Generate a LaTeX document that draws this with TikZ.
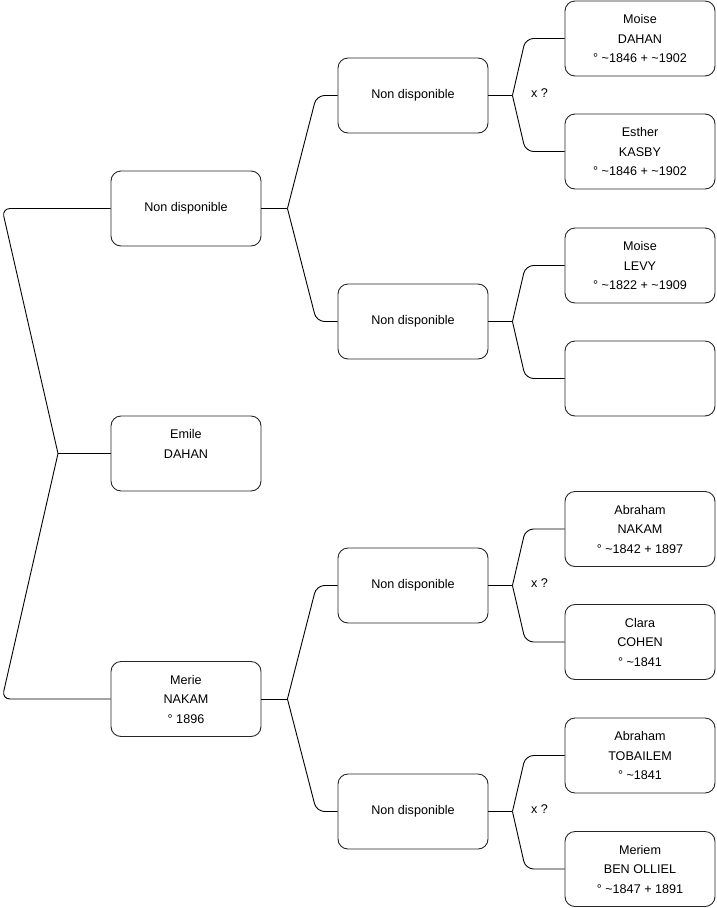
\documentclass[tikz,border=0pt]{standalone}
\usepackage{fontspec}
\setmainfont{Liberation Sans}
\begin{document}
\begin{tikzpicture}[x=1pt,y=-1pt,
  person/.style={draw=black!85, line width=0.9pt, rounded corners=10pt, minimum width=150pt, minimum height=75pt, inner sep=0pt, align=center, font=\fontsize{12.6}{19.5}\selectfont},
  link/.style={draw=black, line width=0.9pt},
  lnk/.style={link, rounded corners=8pt},
  xlab/.style={font=\fontsize{12.6}{15}\selectfont, inner sep=0pt}]
\useasboundingbox (0,0) rectangle (716,908);
% column 1
\node[person] (p1) at (186,208.5) {Non disponible};
\node[person] (root) at (186,453.5) {Emile\\DAHAN\\\mbox{}};
\node[person] (p2) at (186,699) {Merie\\NAKAM\\° 1896};
% column 2
\node[person] (g1) at (413,95.5) {Non disponible};
\node[person] (g2) at (413,321.5) {Non disponible};
\node[person] (g3) at (413,585.5) {Non disponible};
\node[person] (g4) at (413,811.5) {Non disponible};
% column 3
\node[person] (a1) at (640,38.5) {Moise\\DAHAN\\° \textasciitilde 1846 + \textasciitilde 1902};
\node[person] (a2) at (640,151.5) {Esther\\KASBY\\° \textasciitilde 1846 + \textasciitilde 1902};
\node[person] (a3) at (640,265.5) {Moise\\LEVY\\° \textasciitilde 1822 + \textasciitilde 1909};
\node[person] (a4) at (640,378.5) {};
\node[person] (a5) at (640,529) {Abraham\\NAKAM\\° \textasciitilde 1842 + 1897};
\node[person] (a6) at (640,642) {Clara\\COHEN\\° \textasciitilde 1841};
\node[person] (a7) at (640,755.5) {Abraham\\TOBAILEM\\° \textasciitilde 1841};
\node[person] (a8) at (640,869) {Meriem\\BEN OLLIEL\\° \textasciitilde 1847 + 1891};
% forks
\coordinate (f0) at (58,453.5);
\draw[link] (root.west) -- (f0);
\draw[lnk] (f0) -- (2,208.5) -- (p1.west);
\draw[lnk] (f0) -- (2,699) -- (p2.west);
\foreach \p/\u/\d in {p1/g1/g2, p2/g3/g4}{
  \coordinate (f\p) at ([xshift=26pt]\p.east);
  \draw[link] (\p.east) -- (f\p);
  \draw[lnk] (f\p) -- ([xshift=-21pt]\u.west) -- (\u.west);
  \draw[lnk] (f\p) -- ([xshift=-21pt]\d.west) -- (\d.west);
}
\foreach \p/\u/\d in {g1/a1/a2, g2/a3/a4, g3/a5/a6, g4/a7/a8}{
  \coordinate (f\p) at ([xshift=24pt]\p.east);
  \draw[link] (\p.east) -- (f\p);
  \draw[lnk] (f\p) -- ([xshift=-39pt]\u.west) -- (\u.west);
  \draw[lnk] (f\p) -- ([xshift=-39pt]\d.west) -- (\d.west);
}
\node[xlab] (x1) at ([xshift=27pt,yshift=2pt]fg1) {x ?};
\node[xlab] (x3) at ([xshift=27pt,yshift=2pt]fg3) {x ?};
\node[xlab] (x4) at ([xshift=27pt,yshift=2pt]fg4) {x ?};
\end{tikzpicture}
\end{document}
